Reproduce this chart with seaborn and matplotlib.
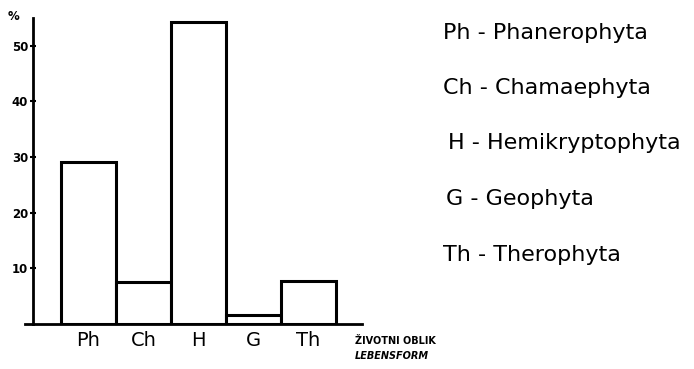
import matplotlib
matplotlib.use("Agg")
import matplotlib.pyplot as plt
import seaborn as sns
import pandas as pd

# Life-form spectrum (percent of species)
codes = ["Ph", "Ch", "H", "G", "Th"]
values = [29.1, 7.5, 54.3, 1.6, 7.7]
names = ["Phanerophyta", "Chamaephyta", "Hemikryptophyta", "Geophyta", "Therophyta"]
yticks = [10, 20, 30, 40, 50]

sns.set_style("white")
plt.rcParams["font.family"] = ["DejaVu Sans"]
plt.rcParams["text.color"] = "black"
plt.rcParams["xtick.color"] = "black"
plt.rcParams["ytick.color"] = "black"

W, H = 694, 369
fig = plt.figure(figsize=(W / 100, H / 100), dpi=100)

# axes box in pixels: x from 25 to 362, y from 18 (top) to 324 (baseline)
ax_l, ax_r, ax_t, ax_b = 25, 362, 18, 324
ax = fig.add_axes([ax_l / W, (H - ax_b) / H, (ax_r - ax_l) / W, (ax_b - ax_t) / H])

df = pd.DataFrame({"code": codes, "value": values})
sns.barplot(data=df, x="code", y="value", order=codes, color="white",
            edgecolor="black", linewidth=2.2, width=1.0, ax=ax, saturation=1)

unit = 54.9
ax.set_xlim(-0.5 - (61 - ax_l) / unit, 4.5 + (ax_r - 336) / unit)
ax.set_ylim(0, 55)

for s in ["top", "right"]:
    ax.spines[s].set_visible(False)
ax.spines["left"].set_position(("axes", (33 - ax_l) / (ax_r - ax_l)))
for s in ["left", "bottom"]:
    ax.spines[s].set_linewidth(2)
    ax.spines[s].set_color("black")

ax.set_yticks(yticks)
ax.set_yticklabels([str(v) for v in yticks], fontsize=8.5, fontweight="bold")
ax.tick_params(axis="y", direction="inout", length=5, width=1.5, left=True, pad=1,
               labelcolor="black")
ax.tick_params(axis="x", length=0, pad=5, labelsize=14, labelcolor="black")
ax.set_xlabel("")
ax.set_ylabel("")

fig.text(14 / W, 1 - 16 / H, "%", fontsize=8.5, fontweight="bold", ha="center", va="center")
fig.text(355 / W, 1 - 341 / H, "ŽIVOTNI OBLIK", fontsize=7, fontweight="bold", ha="left", va="center")
fig.text(355 / W, 1 - 356 / H, "LEBENSFORM", fontsize=7, fontweight="bold", style="italic",
         ha="left", va="center")

# key to the abbreviations
key_y = [33, 88, 143, 199, 255]
key_x = [443, 443, 448, 446, 443]
for c, n, x, y in zip(codes, names, key_x, key_y):
    fig.text(x / W, 1 - y / H, f"{c} - {n}", fontsize=16, ha="left", va="center")

fig.savefig("out.png", dpi=100)
